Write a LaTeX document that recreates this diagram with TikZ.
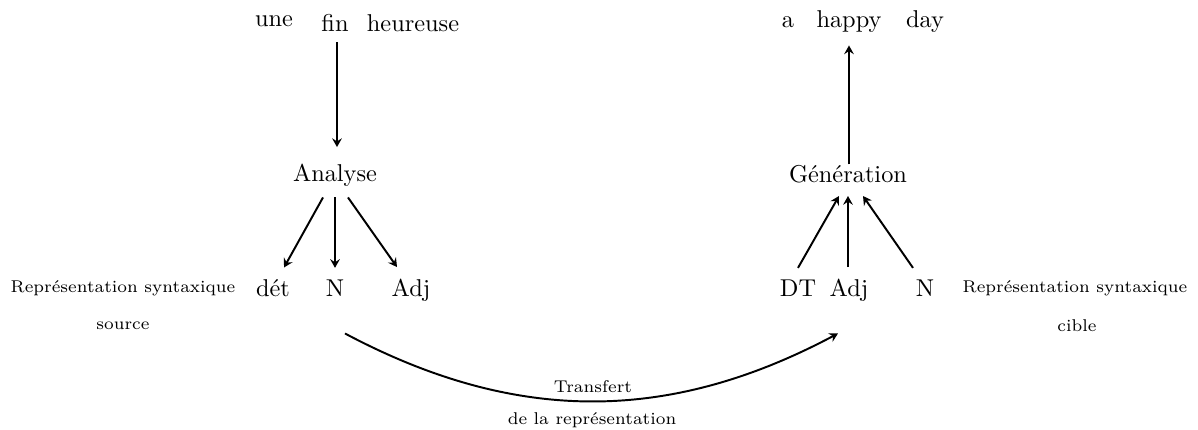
\documentclass[tikz,border=0pt]{standalone}
\usetikzlibrary{calc,arrows.meta}
\begin{document}
\begin{tikzpicture}[x=0.4107pt,y=-0.4107pt,
  word/.style={inner sep=0pt, anchor=base},
  small/.style={inner sep=0pt, anchor=base, font=\scriptsize},
  arr/.style={-{Stealth[length=3.6pt,width=4pt,inset=1.3pt]}, thick}]
\useasboundingbox (0,0) rectangle (1198,430);
% source side
\node[word] (une) at (274,27) {une};
\node[word] (fin) at (335,32) {fin};
\node[word] (heur) at (413,32) {heureuse};
\node[word] (an) at (335,182) {Analyse};
\node[word] (det) at (273,297) {dét};
\node[word] (nA) at (335,297) {N};
\node[word] (adjA) at (411,297) {Adj};
\node[small] (rs1) at (123,293) {Représentation syntaxique};
\node[small] (rs2) at (123,330) {source};
% target side
\node[word] (a) at (788,28) {a};
\node[word] (happy) at (849,28) {happy};
\node[word] (day) at (925,28) {day};
\node[word] (gen) at (848,183) {Génération};
\node[word] (dt) at (798,297) {DT};
\node[word] (adjB) at (849,297) {Adj};
\node[word] (nB) at (925,297) {N};
\node[small] (rc1) at (1075,293) {Représentation syntaxique};
\node[small] (rc2) at (1077,332) {cible};
% transfer labels
\node[small] (tr1) at (593,393) {Transfert};
\node[small] (tr2) at (592,425) {de la représentation};
% arrows source
\draw[arr] ($(fin.south)+(2,10)$) -- ($(an.north)+(2,-17)$);
\draw[arr] ($(an.south)+(-12,10)$) -- ($(det.north)+(11,-12)$);
\draw[arr] ($(an.south)+(0,10)$) -- ($(nA.north)+(0,-12)$);
\draw[arr] ($(an.south)+(13,10)$) -- ($(adjA.north)+(-14,-12)$);
% arrows target
\draw[arr] ($(dt.north)+(0,-12)$) -- ($(gen.south)+(-9,12)$);
\draw[arr] ($(adjB.north)+(-1,-12)$) -- ($(gen.south)+(0,12)$);
\draw[arr] ($(nB.north)+(-12,-12)$) -- ($(gen.south)+(15,12)$);
\draw[arr] ($(gen.north)+(1,-1)$) -- ($(happy.south)+(0,12)$);
% transfer
\coordinate (ts) at ($(nA.south)+(10,36)$);
\coordinate (te) at ($(adjB.south)+(-11,31)$);
\draw[arr] (ts) to[bend right=28] (te);
\end{tikzpicture}
\end{document}
